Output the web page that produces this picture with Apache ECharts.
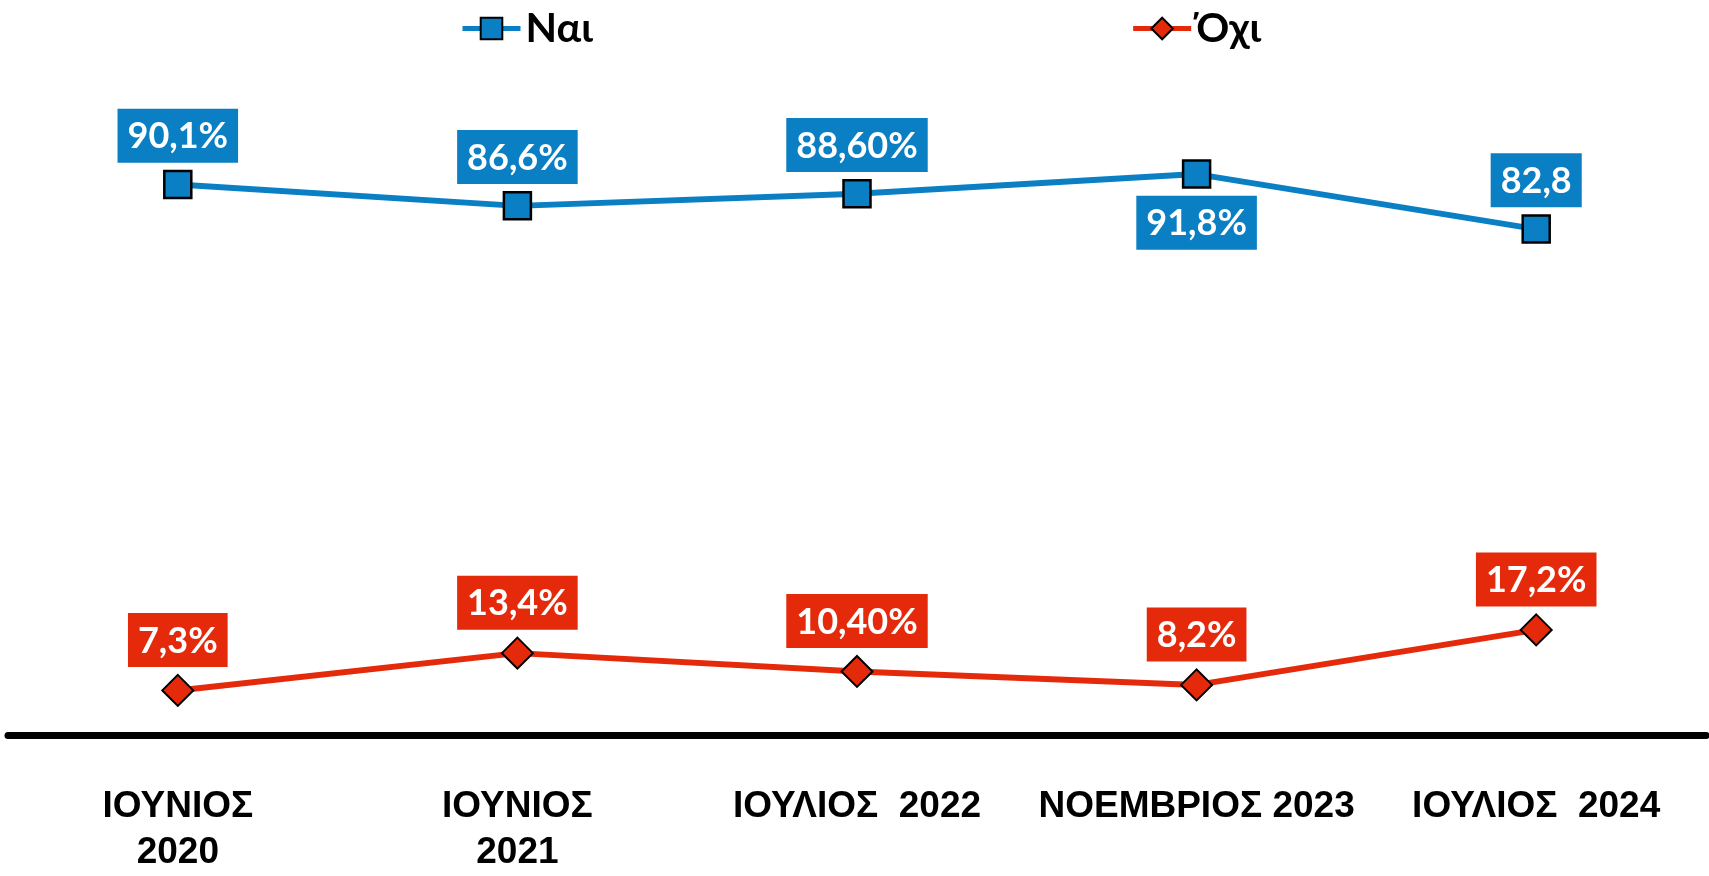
<!DOCTYPE html>
<html>
<head>
<meta charset="utf-8">
<script src="https://cdn.jsdelivr.net/npm/echarts@6/dist/echarts.min.js"></script>
<style>
html,body{margin:0;padding:0;background:#fff;}
#chart{width:1709px;height:876px;}
</style>
</head>
<body>
<div id="chart"></div>
<script>
const categories = ['ΙΟΥΝΙΟΣ\n2020', 'ΙΟΥΝΙΟΣ\n2021', 'ΙΟΥΛΙΟΣ  2022', 'ΝΟΕΜΒΡΙΟΣ 2023', 'ΙΟΥΛΙΟΣ  2024'];
const yesValues = [90.1, 86.6, 88.6, 91.8, 82.8];
const yesLabels = ['90,1%', '86,6%', '88,60%', '91,8%', '82,8'];
const noValues = [7.3, 13.4, 10.4, 8.2, 17.2];
const noLabels = ['7,3%', '13,4%', '10,40%', '8,2%', '17,2%'];
const yesName = 'Ναι';
const noName = 'Όχι';

const BLUE = '#0A7FC4';
const RED = '#E52A0B';
const labelFont = '"Lato", "DejaVu Sans", sans-serif';

const chart = echarts.init(document.getElementById('chart'));

function labelCfg(color, labels) {
  return {
    show: true,
    formatter: p => labels[p.dataIndex],
    color: '#fff',
    fontFamily: labelFont,
    fontWeight: 'bold',
    fontSize: 36,
    backgroundColor: color,
    padding: [10, 10, 8, 10],
    distance: 7
  };
}

chart.setOption({
  animation: false,
  backgroundColor: '#fff',
  legend: {
    top: 3,
    left: 455,
    itemGap: 538,
    itemWidth: 58,
    itemHeight: 27,
    lineStyle: { width: 5 },
    textStyle: { fontSize: 41, fontWeight: 'bold', color: '#000', fontFamily: '"Lato", "Liberation Sans", sans-serif' },
    data: [yesName, noName]
  },
  grid: { left: 8, right: 3, top: 124, bottom: 133, containLabel: false },
  xAxis: {
    type: 'category',
    data: categories,
    boundaryGap: true,
    axisLine: { show: true, lineStyle: { color: '#000', width: 7 } },
    axisTick: { show: false },
    axisLabel: {
      margin: 49,
      color: '#000',
      fontSize: 37,
      fontWeight: 'bold',
      lineHeight: 46,
      fontFamily: '"Liberation Sans", Arial, sans-serif',
      interval: 0
    }
  },
  yAxis: {
    type: 'value',
    min: 0,
    max: 100,
    show: false,
    splitLine: { show: false }
  },
  series: [
    {
      name: yesName,
      type: 'line',
      data: yesValues.map((v, i) => ({
        value: v,
        label: { position: i === 3 ? 'bottom' : 'top' }
      })),
      symbol: 'rect',
      symbolSize: 27,
      lineStyle: { color: BLUE, width: 6 },
      itemStyle: { color: BLUE, borderColor: '#000', borderWidth: 2.5 },
      label: labelCfg(BLUE, yesLabels),
      z: 3
    },
    {
      name: noName,
      type: 'line',
      data: noValues,
      symbol: 'diamond',
      symbolSize: 31,
      lineStyle: { color: RED, width: 6 },
      itemStyle: { color: RED, borderColor: '#000', borderWidth: 2 },
      label: Object.assign(labelCfg(RED, noLabels), { position: 'top' }),
      z: 3
    }
  ]
});
</script>
</body>
</html>
